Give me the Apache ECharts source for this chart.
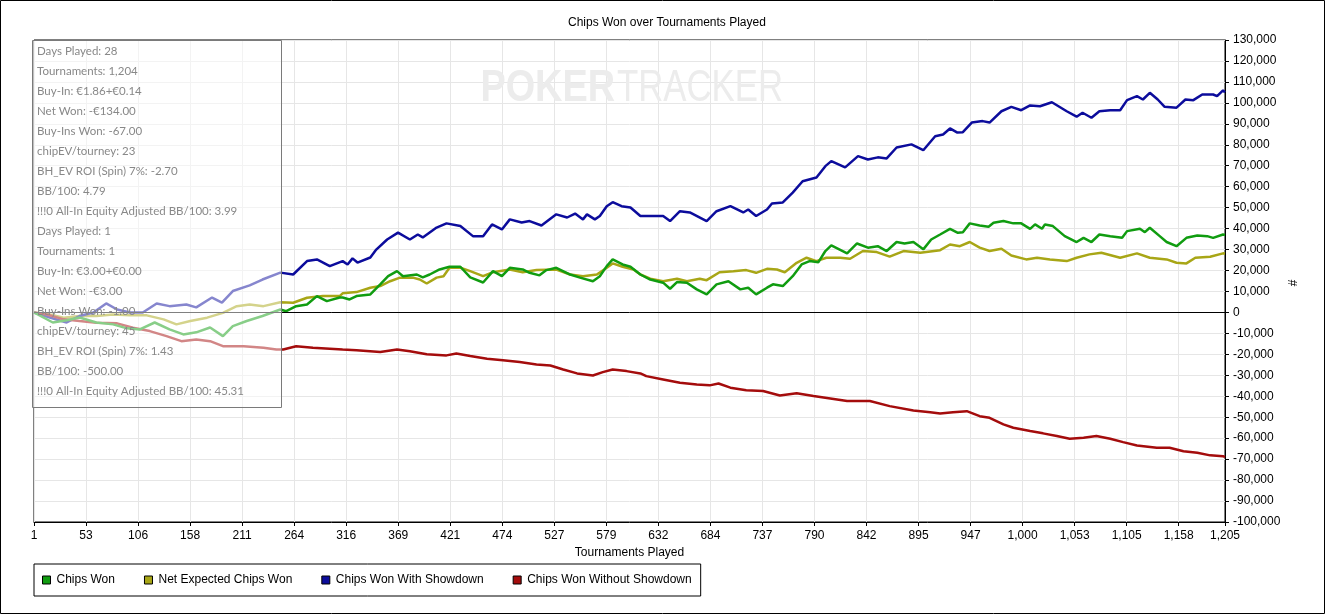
<!DOCTYPE html>
<html>
<head>
<meta charset="utf-8">
<script src="https://cdn.jsdelivr.net/npm/echarts@6/dist/echarts.min.js"></script>
<style>
html,body{margin:0;padding:0;background:#fff;}
#chart{width:1325px;height:614px;}
</style>
</head>
<body>
<div id="chart"></div>
<script>
// ---- data (tournament number, chips) ----
const chipsWonT = [1,20,34,47,64,81,95,108,123,138,152,165,179,192,202,216,232,250,256,266,277,287,297,310,313,320,327,341,351,359,368,374,388,394,401,411,421,432,442,455,465,474,482,495,502,512,519,529,543,553,566,573,580,586,596,604,614,624,637,644,651,661,671,681,691,703,715,723,731,742,748,758,768,777,785,794,801,807,823,833,844,854,863,873,881,890,900,908,917,927,935,940,947,957,966,971,981,991,999,1008,1013,1020,1023,1031,1043,1055,1062,1070,1078,1089,1101,1106,1119,1124,1129,1139,1146,1156,1166,1177,1187,1193,1203,1205];
const chipsWonV = [0,-4800,-3700,-2400,-4800,-5700,-7600,-8100,-4800,-8100,-10500,-9500,-7200,-11300,-6500,-4100,-1700,1400,600,3000,3800,7800,5400,7100,7100,6200,7800,8600,13400,17300,19700,17300,18100,16700,18100,20500,21800,21800,16700,14300,19700,17300,21300,20500,18900,17700,20200,21300,18100,16600,14900,17300,22100,25300,22900,21800,18100,15700,14200,11300,14500,14200,11000,8600,13400,14900,11000,11800,8600,11800,13400,12600,17300,22900,24500,24000,29300,32000,28200,32900,30900,31600,29300,33600,32900,33600,30100,34800,37200,39900,38000,38300,42500,41500,40900,42800,43600,42500,42500,39900,42000,39900,42000,41200,36400,33600,35600,33600,37200,36400,35600,38800,39900,38300,40400,36400,33600,31600,35600,36700,36400,35600,37200,37000];

const netExpT = [1,17,31,47,64,81,98,115,132,145,159,176,192,206,219,233,250,263,277,293,310,313,327,341,351,361,371,384,391,398,408,415,421,432,442,455,465,482,495,509,529,543,556,570,580,586,596,607,614,624,637,651,661,674,681,694,708,721,731,742,752,760,772,782,792,802,816,826,839,853,866,880,897,917,927,937,947,957,967,979,989,1004,1015,1028,1045,1055,1068,1080,1099,1116,1129,1146,1156,1166,1175,1190,1203,1205];
const netExpV = [0,-1000,-2500,-1700,-1700,-1000,-1400,-1400,-3300,-5700,-4100,-2500,-200,3000,3800,3000,4900,4600,7000,7800,7800,9100,9700,11800,12600,14900,16600,16600,15700,13800,16600,17300,21300,21300,19700,17300,19200,20500,19200,20200,20500,18100,17300,18100,21300,23400,21800,20500,18100,16100,14900,16100,14900,16100,15400,19200,19700,20200,18900,20800,20500,19200,23700,26100,24500,26100,26100,25600,29300,28800,26600,29300,28500,29700,32400,31600,33600,30900,29300,30400,27200,25300,26100,25300,24500,26100,27700,28500,26100,28200,26100,25300,23700,23400,26100,26600,28200,28000];

const withSdT = [1,17,34,47,61,74,85,98,111,125,138,155,165,181,191,202,219,232,250,263,277,287,300,313,318,323,328,341,347,358,369,381,389,394,408,418,432,445,455,464,474,482,494,502,514,529,540,548,556,560,568,573,580,586,595,604,614,624,637,644,654,664,681,691,705,718,723,731,742,747,758,768,778,792,801,807,821,834,844,854,863,873,888,900,912,920,927,934,940,949,960,967,979,989,999,1008,1018,1030,1045,1055,1061,1070,1078,1089,1099,1106,1116,1122,1129,1137,1144,1156,1165,1173,1182,1193,1197,1203,1205];
const withSdV = [0,-2400,-4800,-1700,0,4300,1400,0,0,4300,3000,3800,2400,7100,4700,10200,12900,15700,19000,18100,24500,25300,22100,24500,22900,25800,23800,26200,30000,34800,38100,34800,37200,35800,40500,42500,41200,36300,36300,42000,39600,44400,42900,43600,41500,46800,45300,47200,44400,46800,44400,46000,50700,52600,50700,50100,46000,46000,46000,43600,48300,47700,43600,48300,50700,47700,49100,46000,49100,52000,52500,57200,62600,64400,69800,72200,69200,74600,73000,74000,73500,78700,80200,77400,84100,84900,87800,85900,86000,90600,91300,90600,96000,98100,96500,98800,98400,100300,96000,93400,95300,92900,96000,96500,96500,101300,103200,101600,104800,101600,98100,97700,101600,101300,104000,104000,103200,106000,105000];

const withoutSdT = [1,14,31,47,64,85,101,118,135,150,165,179,192,213,233,246,253,266,283,300,313,327,351,368,381,398,418,428,442,459,475,492,509,523,536,550,566,576,586,600,614,620,637,654,671,684,693,705,721,738,755,772,789,806,823,846,866,890,907,917,930,944,957,967,981,991,1008,1021,1035,1048,1062,1075,1089,1102,1116,1136,1149,1163,1177,1190,1203,1205];
const withoutSdV = [0,-1000,-3300,-4100,-4900,-5200,-7300,-8900,-11300,-13700,-12900,-13700,-16100,-16100,-16800,-17700,-17700,-16100,-16800,-17300,-17700,-18000,-18900,-17700,-18500,-20000,-20500,-19600,-20800,-22100,-22800,-23700,-24800,-25300,-27200,-29100,-30100,-28500,-27200,-28000,-29100,-30400,-32000,-33600,-34400,-34800,-33900,-35900,-37100,-37500,-39600,-38600,-39900,-41100,-42300,-42300,-44700,-46800,-47600,-48200,-47600,-47100,-49500,-50300,-53400,-55000,-56600,-57700,-59000,-60300,-59800,-59000,-60300,-61900,-63500,-64600,-64600,-66200,-67000,-68200,-68600,-69000];

const seriesNames = ['Chips Won','Net Expected Chips Won','Chips Won With Showdown','Chips Won Without Showdown'];
const seriesColors = ['#109c10','#a8a616','#0c0c9c','#a40c0c'];

const infoLines = [
  'Days Played: 28','Tournaments: 1,204','Buy-In: €1.86+€0.14','Net Won: -€134.00','Buy-Ins Won: -67.00',
  'chipEV/tourney: 23','BH_EV ROI (Spin) 7%: -2.70','BB/100: 4.79','!!!0 All-In Equity Adjusted BB/100: 3.99',
  'Days Played: 1','Tournaments: 1','Buy-In: €3.00+€0.00','Net Won: -€3.00','Buy-Ins Won: -1.00',
  'chipEV/tourney: 45','BH_EV ROI (Spin) 7%: 1.43','BB/100: -500.00','!!!0 All-In Equity Adjusted BB/100: 45.31'
];

// ---- build ----
const pairs = (ts, vs) => ts.map((t, i) => [t - 1, vs[i]]);
const seriesData = [
  pairs(chipsWonT, chipsWonV),
  pairs(netExpT, netExpV),
  pairs(withSdT, withSdV),
  pairs(withoutSdT, withoutSdV)
];
const FONT = 'Liberation Sans, Arial, sans-serif';

const chart = echarts.init(document.getElementById('chart'), null, {renderer: 'canvas'});

const series = seriesData.map((d, i) => ({
  name: seriesNames[i],
  type: 'line',
  data: d,
  showSymbol: false,
  symbol: 'none',
  smooth: false,
  color: seriesColors[i],
  lineStyle: {width: 2.5, color: seriesColors[i]},
  itemStyle: {color: seriesColors[i]},
  z: i === 0 ? 4 : 3,
  animation: false
}));
series[0].markLine = {
  silent: true, symbol: 'none', animation: false,
  label: {show: false},
  lineStyle: {color: '#000', width: 1, type: 'solid'},
  data: [{yAxis: 0}]
};

const graphics = [
  {type: 'text', x: 615, y: 89, z: 1, silent: true, scaleX: 0.86, originX: 0, originY: 0,
   style: {text: 'POKER', font: 'bold 44px "Liberation Sans", sans-serif', fill: '#ececec', textAlign: 'right', textVerticalAlign: 'middle'}},
  {type: 'text', x: 617, y: 89, z: 1, silent: true, scaleX: 0.79, originX: 0, originY: 0,
   style: {text: 'TRACKER', font: '44px "Liberation Sans", sans-serif', fill: '#ececec', textAlign: 'left', textVerticalAlign: 'middle'}},
  {type: 'rect', z: 100, silent: true,
   shape: {x: 32.5, y: 40.5, width: 249, height: 367},
   style: {fill: 'rgba(255,255,255,0.5)', stroke: '#7a7a7a', lineWidth: 1}},
  {type: 'text', x: 1294, y: 283, z: 100, rotation: Math.PI / 2, silent: true,
   style: {text: '#', font: '12px ' + FONT, fill: '#000', textAlign: 'center', textVerticalAlign: 'middle'}},
  {type: 'rect', z: 100, silent: true,
   shape: {x: 0.5, y: 0.5, width: 1324, height: 613},
   style: {fill: 'none', stroke: '#000', lineWidth: 1}}
];
infoLines.forEach((t, i) => {
  graphics.push({type: 'text', x: 37, y: 51.5 + i * 20, z: 101, silent: true,
    style: {text: t, font: '11.5px Lato, "Open Sans", sans-serif', fill: '#888888', textAlign: 'left', textVerticalAlign: 'middle'}});
});

chart.setOption({
  animation: false,
  backgroundColor: '#fff',
  title: {
    text: 'Chips Won over Tournaments Played',
    left: 568, top: 17, padding: 0,
    textStyle: {fontSize: 12, fontWeight: 'normal', color: '#000', fontFamily: FONT}
  },
  grid: {left: 34, right: 100, top: 40, bottom: 92, show: true, borderColor: '#000', borderWidth: 1, backgroundColor: 'transparent', containLabel: false},
  legend: {
    data: seriesNames,
    left: 34, top: 564,
    orient: 'horizontal',
    padding: [10, 9, 10, 8],
    itemWidth: 8, itemHeight: 8, itemGap: 29,
    icon: 'rect',
    borderColor: '#000', borderWidth: 1,
    selectedMode: false,
    itemStyle: {borderColor: '#000', borderWidth: 1},
    textStyle: {fontSize: 12, color: '#000', fontFamily: FONT, padding: [0, 0, 0, 1]}
  },
  xAxis: {
    type: 'value', min: 0, max: 1204, interval: 52.6,
    name: 'Tournaments Played', nameLocation: 'middle', nameGap: 25,
    nameTextStyle: {fontSize: 12, color: '#000', fontFamily: FONT},
    axisLine: {show: true, onZero: false, lineStyle: {color: '#000', width: 1}},
    axisTick: {show: true, length: 4, lineStyle: {color: '#000'}},
    axisLabel: {
      color: '#000', fontSize: 12, fontFamily: FONT, margin: 8,
      showMinLabel: true, showMaxLabel: true, hideOverlap: false,
      formatter: v => (Math.floor(Math.round(v * 10) / 10) + 1).toLocaleString('en-US')
    },
    splitLine: {show: true, lineStyle: {color: '#e6e6e6', width: 1}}
  },
  yAxis: {
    type: 'value', position: 'right', min: -100000, max: 130000, interval: 10000,
    axisLine: {show: true, onZero: false, lineStyle: {color: '#000', width: 1}},
    axisTick: {show: true, length: 4, lineStyle: {color: '#000'}},
    axisLabel: {color: '#000', fontSize: 12, fontFamily: FONT, margin: 8,
      formatter: v => v.toLocaleString('en-US')},
    splitLine: {show: true, lineStyle: {color: '#e6e6e6', width: 1}}
  },
  series: series,
  graphic: graphics
});
</script>
</body>
</html>
